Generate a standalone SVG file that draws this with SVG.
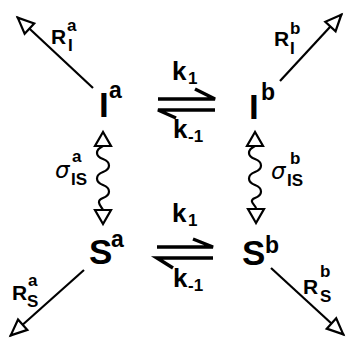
<svg xmlns="http://www.w3.org/2000/svg" width="348" height="340" viewBox="0 0 348 340">
<style>
.t{font-family:"Liberation Sans",Arial,sans-serif;font-weight:bold;fill:#000}
.big{font-size:35px}
.sup{font-size:23px}
.k{font-size:26px}
.ks{font-size:17px}
.r{font-size:21px}
.rs{font-size:17px}
.sig{font-family:"DejaVu Sans","Liberation Sans",sans-serif;font-style:italic;font-size:23px;fill:#000}
.ln{stroke:#000;stroke-width:2.2;fill:none}
.hp{stroke:#000;stroke-width:3.5;fill:none;stroke-linejoin:miter}
.head{fill:#fff;stroke:#000;stroke-width:2.2;stroke-linejoin:miter}
</style>
<defs>
<marker id="ah" viewBox="-21 -10 24 20" refX="0" refY="0" markerWidth="24" markerHeight="20" markerUnits="userSpaceOnUse" orient="auto">
<path class="head" d="M-1,0 L-17,-7 L-17,7 Z"/>
</marker>
</defs>
<rect width="348" height="340" fill="#fff"/>
<g id="connectors">
<line class="ln" x1="93" y1="88" x2="17" y2="17" marker-end="url(#ah)"/>
<line class="ln" x1="280" y1="81" x2="342" y2="14" marker-end="url(#ah)"/>
<line class="ln" x1="84" y1="270" x2="10" y2="336" marker-end="url(#ah)"/>
<line class="ln" x1="271" y1="268" x2="344" y2="335" marker-end="url(#ah)"/>
<path class="hp" d="M158,99 H215 L195,89"/>
<path class="hp" d="M215,110 H158 L176,118"/>
<path class="hp" d="M157,247 H213 L193,239"/>
<path class="hp" d="M213,258 H157 L173,268"/>
<path class="ln" d="M103,146 C95,150 95,156 103,159 S111,169 103,172 S95,182 103,185 S111,195 103,198 S101,206 103,210"/>
<path class="head" d="M103,132 L95,146 L111,146 Z"/>
<path class="head" d="M103,224 L95,210 L111,210 Z"/>
<path class="ln" d="M255,146 C247,150 247,156 255,159 S263,169 255,172 S247,182 255,185 S263,195 255,198 S257,206 256,209"/>
<path class="head" d="M255,132 L247,146 L263,146 Z"/>
<path class="head" d="M256,223 L248,209 L264,209 Z"/>
</g>
<g id="Ia"><text class="t big" x="99" y="117">I</text><text class="t sup" x="109" y="98">a</text></g>
<g id="Ib"><text class="t big" x="249" y="119">I</text><text class="t sup" x="261" y="100">b</text></g>
<g id="Sa"><text class="t big" x="89" y="264">S</text><text class="t sup" x="111" y="247">a</text></g>
<g id="Sb"><text class="t big" x="242" y="265">S</text><text class="t sup" x="265" y="253">b</text></g>
<g id="k-top"><text class="t k" x="172" y="80">k</text><text class="t ks" x="188" y="84">1</text>
<text class="t k" x="173" y="138">k</text><text class="t ks" x="188" y="142">-1</text></g>
<g id="k-bottom"><text class="t k" x="172" y="222">k</text><text class="t ks" x="188" y="226">1</text>
<text class="t k" x="173" y="287">k</text><text class="t ks" x="188" y="291">-1</text></g>
<g id="RIa"><text class="t r" x="51" y="44">R</text><text class="t rs" x="67" y="31">a</text><text class="t rs" x="68" y="51">I</text></g>
<g id="RIb"><text class="t r" x="274" y="46">R</text><text class="t rs" x="290" y="34">b</text><text class="t rs" x="290" y="54">I</text></g>
<g id="RSa"><text class="t r" x="12" y="300">R</text><text class="t rs" x="28" y="286">a</text><text class="t rs" x="27" y="307">S</text></g>
<g id="RSb"><text class="t r" x="303" y="294">R</text><text class="t rs" x="320" y="277">b</text><text class="t rs" x="320" y="302">S</text></g>
<g id="sigma-a"><text class="sig" x="55" y="178">σ</text><text class="t rs" x="72" y="162">a</text><text class="t rs" x="71" y="185">IS</text></g>
<g id="sigma-b"><text class="sig" x="271" y="179">σ</text><text class="t rs" x="290" y="164">b</text><text class="t rs" x="287" y="186">IS</text></g>
</svg>
